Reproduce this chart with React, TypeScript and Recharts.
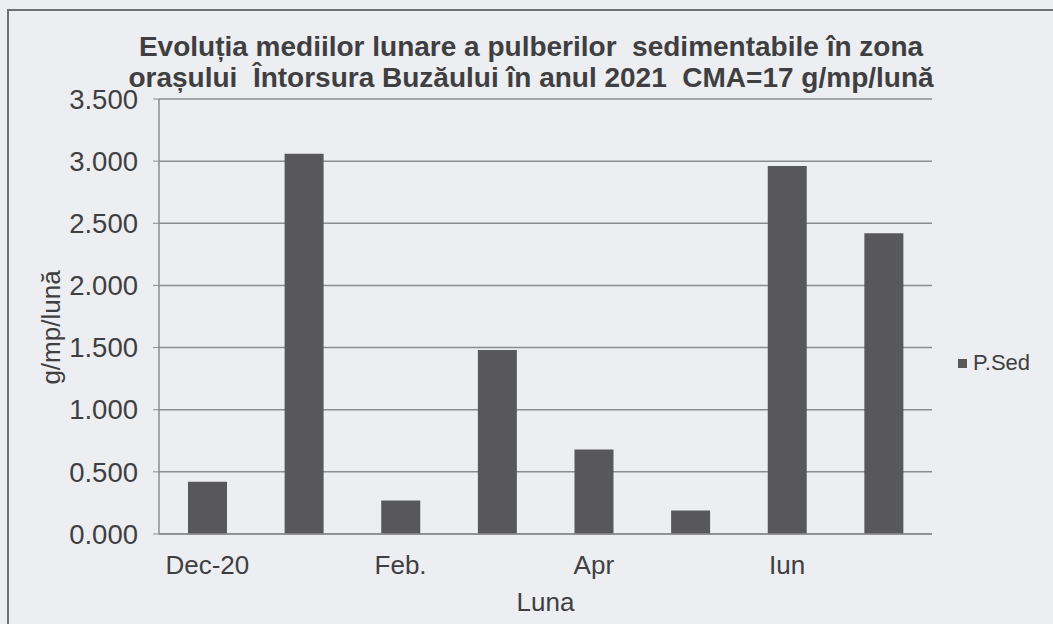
import { BarChart, Bar, XAxis, YAxis, CartesianGrid, Legend, Label } from 'recharts';

const months = ['Dec-20', 'Ian', 'Feb.', 'Mar', 'Apr', 'Mai', 'Iun', 'Iul'];
const pSed = [0.42, 3.06, 0.27, 1.48, 0.68, 0.19, 2.96, 2.42];
const yTicks = [0, 0.5, 1, 1.5, 2, 2.5, 3, 3.5];
const shownMonths = ['Dec-20', 'Feb.', 'Apr', 'Iun'];

const data = months.map((m, i) => ({ luna: m, 'P.Sed': pSed[i] }));

const ink = '#3f3f42';
const sans = 'Arial, "Liberation Sans", sans-serif';

export default function App() {
  return (
    <div style={{ position: 'absolute', left: 0, top: 0, width: 1053, height: 624, background: '#eceef1', overflow: 'hidden', fontFamily: sans }}>
      <div style={{ position: 'absolute', left: 7, top: 9, width: 1060, height: 640, border: '2px solid #707070' }} />
      <div style={{ position: 'absolute', left: 0, top: 31, width: 1062, textAlign: 'center', fontFamily: '"Liberation Sans Narrow", Arial, sans-serif', fontWeight: 'bold', fontSize: 28, lineHeight: '31px', color: ink }}>
        Evoluția mediilor lunare a pulberilor&nbsp; sedimentabile în zona<br />
        orașului&nbsp; Întorsura Buzăului în anul 2021&nbsp; CMA=17 g/mp/lună
      </div>
      <BarChart width={1053} height={624} data={data} margin={{ top: 99, right: 121, left: 0, bottom: 0 }} barCategoryGap="30%" style={{ position: 'absolute', left: 0, top: 0 }}>
        <CartesianGrid vertical={false} stroke="#8c8c8e" strokeWidth={1.5} />
        <XAxis dataKey="luna" height={90} interval={0} tickLine={false} axisLine={{ stroke: '#8c8c8e', strokeWidth: 1.5 }}
          tick={{ fill: ink, fontSize: 26, fontFamily: sans }} tickMargin={16}
          tickFormatter={(v: string) => (shownMonths.includes(v) ? v : '')}>
          <Label value="Luna" position="insideBottom" offset={13} style={{ fill: ink, fontSize: 26, fontFamily: sans }} />
        </XAxis>
        <YAxis width={159} domain={[0, 3.5]} ticks={yTicks} interval={0} tickSize={6}
          tickLine={{ stroke: '#8c8c8e' }} axisLine={{ stroke: '#8c8c8e', strokeWidth: 1.5 }}
          tick={{ fill: ink, fontSize: 27.5, fontFamily: sans }} tickMargin={15}
          tickFormatter={(v: number) => v.toFixed(3)}>
          <Label content={({ viewBox }: any) => (
            <text x={viewBox.x + 51} y={viewBox.y + viewBox.height / 2 + 11} transform={`rotate(-90, ${viewBox.x + 51}, ${viewBox.y + viewBox.height / 2 + 11})`}
              textAnchor="middle" dominantBaseline="central" fill={ink} fontSize={26} fontFamily={sans}>g/mp/lună</text>
          )} />
        </YAxis>
        <Legend layout="horizontal" align="center" verticalAlign="middle" wrapperStyle={{ position: 'absolute', left: 958, top: 350, width: 95 }}
          content={() => (
            <div style={{ display: 'flex', alignItems: 'center', fontFamily: sans, fontSize: 22, color: ink }}>
              <span style={{ display: 'inline-block', width: 9, height: 9, background: '#58585b', marginRight: 6 }} />
              P.Sed
            </div>
          )} />
        <Bar dataKey="P.Sed" fill="#58585b" isAnimationActive={false} />
      </BarChart>
    </div>
  );
}
